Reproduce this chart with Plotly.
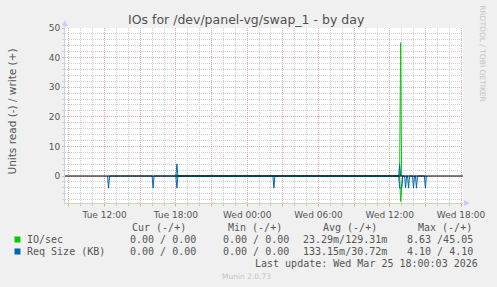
import plotly.graph_objects as go

# ---------------- data ----------------
x_start = "2026-03-24 08:40"
x_end = "2026-03-25 18:10"

# IO/sec (green): write plotted positive, read plotted negative
io_write_t = ["2026-03-24 18:00", "2026-03-24 18:05", "2026-03-24 18:10",
              "2026-03-25 12:50", "2026-03-25 12:55", "2026-03-25 13:00"]
io_write_v = [0, 0.5, 0, 0, 45.05, 0]
io_read_t = ["2026-03-24 18:00", "2026-03-24 18:05", "2026-03-24 18:10",
             "2026-03-25 12:50", "2026-03-25 12:55", "2026-03-25 13:00", "2026-03-25 13:05"]
io_read_v = [0, 0.5, 0, 0, 8.63, 4.10, 0]

# Req Size (KB) (blue)
req_write_t = ["2026-03-24 18:00", "2026-03-24 18:05", "2026-03-24 18:10",
               "2026-03-25 12:45", "2026-03-25 12:50", "2026-03-25 12:55"]
req_write_v = [0, 4.10, 0, 0, 4.10, 0]
req_read_t = ["2026-03-24 12:15", "2026-03-24 12:20", "2026-03-24 12:25",
              "2026-03-24 16:00", "2026-03-24 16:05", "2026-03-24 16:10",
              "2026-03-24 18:00", "2026-03-24 18:05", "2026-03-24 18:10",
              "2026-03-25 02:10", "2026-03-25 02:15", "2026-03-25 02:20",
              "2026-03-25 12:45", "2026-03-25 12:50", "2026-03-25 12:55", "2026-03-25 13:00", "2026-03-25 13:05",
              "2026-03-25 13:15", "2026-03-25 13:20", "2026-03-25 13:25", "2026-03-25 13:30",
              "2026-03-25 13:35", "2026-03-25 13:40",
              "2026-03-25 13:55", "2026-03-25 14:00", "2026-03-25 14:05", "2026-03-25 14:10",
              "2026-03-25 14:15", "2026-03-25 14:20",
              "2026-03-25 14:55", "2026-03-25 15:00", "2026-03-25 15:05"]
req_read_v = [0, 4.10, 0,
              0, 4.10, 0,
              0, 4.10, 0,
              0, 4.10, 0,
              0, 4.10, 4.10, 4.10, 0,
              0, 4.10, 0, 0,
              4.10, 0,
              0, 4.10, 0, 0,
              4.10, 0,
              0, 4.10, 0]

x_tickvals = ["2026-03-24 09:00", "2026-03-24 12:00", "2026-03-24 15:00", "2026-03-24 18:00",
              "2026-03-24 21:00", "2026-03-25 00:00", "2026-03-25 03:00", "2026-03-25 06:00",
              "2026-03-25 09:00", "2026-03-25 12:00", "2026-03-25 15:00", "2026-03-25 18:00"]
x_ticktext = ["", "Tue 12:00", "", "Tue 18:00", "", "Wed 00:00", "", "Wed 06:00",
              "", "Wed 12:00", "", "Wed 18:00"]
y_tickvals = [0, 10, 20, 30, 40, 50]
y_range = [-9.12, 50]

legend_names = ["IO/sec", "Req Size (KB)"]
legend_colors = ["#00CC00", "#0066B3"]
col_headers = ["Cur (-/+)", "Min (-/+)", "Avg (-/+)", "Max (-/+)"]
cur_vals = ["0.00 / 0.00", "0.00 / 0.00"]
min_vals = ["0.00 / 0.00", "0.00 / 0.00"]
avg_vals = ["23.29m/129.31m", "133.15m/30.72m"]
max_vals = ["8.63 /45.05", "4.10 / 4.10"]

# ---------------- layout geometry ----------------
W, H = 497, 287
L, R, T, B = 65, 467, 28, 203


def px(x):
    return (x - L) / (R - L)


def py(y):
    return (B - y) / (B - T)


GREEN, BLUE = legend_colors
TXT = "#555555"
MONO = "DejaVu Sans Mono"
SANS = "DejaVu Sans"
MAJOR = "rgba(235,150,150,0.6)"
MINOR = "rgba(200,200,200,0.85)"
AXIS = "#c9cff2"

fig = go.Figure()
fig.add_trace(go.Scatter(x=io_write_t, y=io_write_v, mode="lines",
                         line=dict(color=GREEN, width=1), hoverinfo="skip"))
fig.add_trace(go.Scatter(x=io_read_t, y=[-v for v in io_read_v], mode="lines",
                         line=dict(color=GREEN, width=1), hoverinfo="skip"))
fig.add_trace(go.Scatter(x=req_write_t, y=req_write_v, mode="lines",
                         line=dict(color=BLUE, width=1), hoverinfo="skip"))
fig.add_trace(go.Scatter(x=req_read_t, y=[-v for v in req_read_v], mode="lines",
                         line=dict(color=BLUE, width=1), hoverinfo="skip"))

fig.update_xaxes(
    range=[x_start, x_end], type="date",
    tickmode="array", tickvals=x_tickvals, ticktext=x_ticktext,
    showgrid=True, gridcolor=MAJOR, griddash="1px,1px", gridwidth=1,
    ticks="outside", ticklen=3, tickcolor=MAJOR,
    tickfont=dict(family=SANS, size=9, color=TXT),
    showline=True, linecolor=AXIS, linewidth=1,
    zeroline=False,
    minor=dict(tickmode="linear", tick0="2026-03-24 00:00", dtick=3600000,
               showgrid=True, gridcolor=MINOR, griddash="1px,1px", gridwidth=1,
               ticks="outside", ticklen=2, tickcolor=MINOR),
)
fig.update_yaxes(
    range=y_range, tickmode="array", tickvals=y_tickvals,
    showgrid=True, gridcolor=MAJOR, griddash="1px,1px", gridwidth=1,
    ticks="outside", ticklen=2, tickcolor=MAJOR,
    tickfont=dict(family=SANS, size=9, color=TXT),
    showline=True, linecolor=AXIS, linewidth=1,
    zeroline=False,
    minor=dict(tickmode="linear", tick0=0, dtick=2,
               showgrid=True, gridcolor=MINOR, griddash="1px,1px", gridwidth=1,
               ticks="outside", ticklen=2, tickcolor=MINOR),
)

ann = []


def text(x, y, s, size=10, family=MONO, color=TXT, xanchor="left", angle=0):
    ann.append(dict(x=px(x), y=py(y), xref="paper", yref="paper", text=s,
                    showarrow=False, xanchor=xanchor, yanchor="middle",
                    textangle=angle, borderpad=0,
                    font=dict(family=family, size=size, color=color)))


text(248, 20, "IOs for /dev/panel-vg/swap_1 - by day", size=12.5, family=SANS,
     color="#505050", xanchor="center")
text(11, 112, "Units read (-) / write (+)", size=10.5, family=SANS, xanchor="center", angle=-90)
text(487, 54, "RRDTOOL / TOBI OETIKER", size=7.5, family=SANS, color="#c4c4c4",
     xanchor="center", angle=90)

header_right = [188, 285, 381, 477]
for h, xr in zip(col_headers, header_right):
    text(xr, 227.5, h, xanchor="right")

row_y = [239.5, 251.5]
shapes = []
for i in range(2):
    text(26, row_y[i], legend_names[i])
    text(198, row_y[i], cur_vals[i], xanchor="right")
    text(292, row_y[i], min_vals[i], xanchor="right")
    text(391, row_y[i], avg_vals[i], xanchor="right")
    text(478, row_y[i], max_vals[i], xanchor="right")
    shapes.append(dict(type="rect", xref="paper", yref="paper",
                       x0=px(14), x1=px(20), y0=py(row_y[i] + 3), y1=py(row_y[i] - 3),
                       fillcolor=legend_colors[i], line=dict(width=0), layer="above"))

text(483, 263.5, "Last update: Wed Mar 25 18:00:03 2026", xanchor="right")
text(248, 276, "Munin 2.0.73", size=7.5, family=SANS, color="#c4c4c4", xanchor="center")

# axis arrows
shapes.append(dict(type="line", xref="paper", yref="paper", x0=px(L), x1=px(L),
                   y0=py(T), y1=py(22), line=dict(color=AXIS, width=1)))
shapes.append(dict(type="path", xref="paper", yref="paper",
                   path=f"M {px(L-3)},{py(26)} L {px(L+3)},{py(26)} L {px(L)},{py(20)} Z",
                   fillcolor=AXIS, line=dict(width=0)))
shapes.append(dict(type="path", xref="paper", yref="paper",
                   path=f"M {px(R+1)},{py(B-3)} L {px(R+1)},{py(B+3)} L {px(R+7)},{py(B)} Z",
                   fillcolor=AXIS, line=dict(width=0)))

fig.update_layout(
    width=W, height=H,
    margin=dict(l=L, r=W - R, t=T, b=H - B, pad=0),
    paper_bgcolor="#f0f0f0", plot_bgcolor="white",
    showlegend=False,
    annotations=ann, shapes=shapes,
)

# black zero rule drawn above the data
fig.add_hline(y=0, line=dict(color="black", width=1), layer="above")

fig.write_html("out.html")
